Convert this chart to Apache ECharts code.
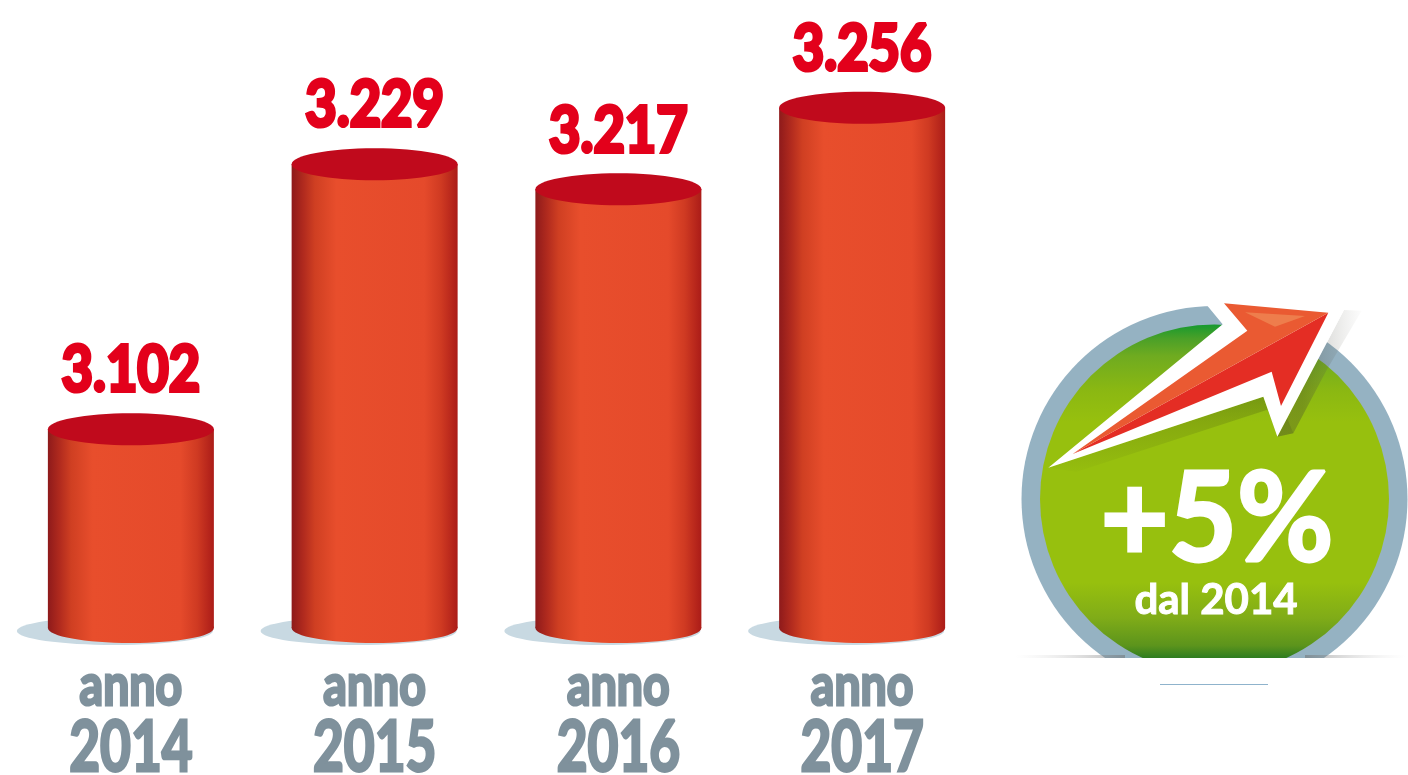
<!DOCTYPE html>
<html><head><meta charset="utf-8">
<style>html,body{margin:0;padding:0;background:#fff}#c{width:1408px;height:775px}</style>
<script src="https://cdn.jsdelivr.net/npm/echarts@6/dist/echarts.min.js"></script>
</head><body><div id="c"></div>
<script>
const years = ['2014','2015','2016','2017'];
const values = [3102,3229,3217,3256];
const axisWord = 'anno';
const badgeMain = '+5%';
const badgeSub = 'dal 2014';
const FONT = 'Lato,"Open Sans",sans-serif';
const fmt = v => String(v).replace(/(\d)(\d{3})$/, '$1.$2');
const Z = pts => pts.map(p => [1000 + p[0]/3, 290 + p[1]/3]);
const lin = (x0,y0,x2,y2,stops) => new echarts.graphic.LinearGradient(x0,y0,x2,y2,stops.map(s=>({offset:s[0],color:s[1]})));
const bodyFill = () => lin(0,0,1,0,[[0,'#8e1a1b'],[0.07,'#b02a1e'],[0.14,'#cf3f22'],[0.27,'#e84e2c'],[0.8,'#e54a2b'],[0.9,'#cf3a22'],[1,'#ab1c18']]);
const label = (text,x,y,size,sx,color,lw) => ({type:'text',x,y,scaleX:sx,
  style:{text,x:0,y:0,align:'center',verticalAlign:'middle',font:'bold '+size+'px '+FONT,fill:color,stroke:color,lineWidth:lw,lineJoin:'round'}});

const chart = echarts.init(document.getElementById('c'), null, {renderer:'canvas'});
const cx=1214.5, cy=499;
chart.setOption({
  animation:false,
  backgroundColor:'#fff',
  grid:{left:9,width:975,top:16,height:626,outerBoundsMode:'none'},
  xAxis:{type:'category',data:years,axisLine:{show:false},axisTick:{show:false},axisLabel:{show:false}},
  yAxis:{type:'value',min:3000,max:3300,show:false,splitLine:{show:false}},
  series:[{
    type:'custom',
    data:values.map((v,i)=>[i,v]),
    clip:false,
    renderItem(params,api){
      const top=api.coord([api.value(0),api.value(1)]);
      const base=api.coord([api.value(0),3000]);
      const x=top[0], w=83, ry=16, by=base[1]-14;
      return {type:'group',children:[
        {type:'ellipse',shape:{cx:x-16,cy:by+3,rx:98,ry:14},style:{fill:'#c8d9e2'}},
        {type:'ellipse',shape:{cx:x,cy:by,rx:w,ry:15},style:{fill:bodyFill()}},
        {type:'rect',shape:{x:x-w,y:top[1],width:2*w,height:by-top[1]},style:{fill:bodyFill()}},
        {type:'ellipse',shape:{cx:x,cy:top[1],rx:w,ry:ry},style:{fill:'#c00a1c'}},
        label(fmt(api.value(1)),x,top[1]-58,63,0.86,'#e3001b',4),
        label(axisWord,x,686,58,0.8,'#7f919c',3),
        label(years[params.dataIndex],x,748,70,0.76,'#7f919c',3)
      ]};
    }
  }],
  graphic:[
    {type:'circle',silent:true,z:1,shape:{cx,cy,r:193},style:{fill:'#95b2c2'}},
    {type:'circle',silent:true,z:2,shape:{cx,cy,r:174.5},style:{fill:lin(0,0,0,1,[[0,'#169a2e'],[0.04,'#4aa028'],[0.09,'#6fab20'],[0.19,'#8bb812'],[0.28,'#97c00e'],[0.74,'#97c00e'],[0.84,'#80ac18'],[0.92,'#5c941c'],[0.955,'#2f7d20'],[1,'#2f7d20']])}},
    // white mask under the ground line
    {type:'rect',silent:true,z:3,shape:{x:1005,y:658,width:403,height:117},style:{fill:'#fff'}},
    {type:'rect',silent:true,z:3,shape:{x:1015,y:655,width:110,height:3},style:{fill:lin(1,0,0,0,[[0,'rgba(110,110,110,0.5)'],[1,'rgba(200,200,200,0)'] ])}},
    {type:'rect',silent:true,z:3,shape:{x:1305,y:655,width:100,height:3},style:{fill:lin(0,0,1,0,[[0,'rgba(110,110,110,0.5)'],[1,'rgba(200,200,200,0)'] ])}},
    {type:'rect',silent:true,z:3,shape:{x:1160,y:684,width:108,height:1},style:{fill:'#8fb3cc'}},
    // arrow shadows
    {type:'polygon',silent:true,z:4,shape:{points:Z([[145,533],[790,320],[832,440],[880,430],[860,380],[800,360],[230,545]])},style:{fill:lin(0,0,0,1,[[0,'rgba(60,70,20,0.28)'],[1,'rgba(60,70,20,0.02)']])}},
    {type:'polygon',silent:true,z:4,shape:{points:Z([[1032,60],[1085,62],[980,240],[880,430],[832,440]])},style:{fill:lin(0,0,1,0,[[0.3,'rgba(60,60,50,0.3)'],[1,'rgba(120,120,110,0.02)']])}},
    // white outline
    {type:'polygon',silent:true,z:5,shape:{points:Z([[145,533],[668,103],[622,47],[672,40],[985,60],[1032,60],[832,440],[790,320]])},style:{fill:'#fff'}},
    // arrow
    {type:'polygon',silent:true,z:6,shape:{points:Z([[218,492],[985,68],[843,348],[815,245]])},style:{fill:'#e42d24'}},
    {type:'polygon',silent:true,z:7,shape:{points:Z([[218,492],[742,122],[672,40],[985,68]])},style:{fill:'#ea5a32'}},
    {type:'polygon',silent:true,z:8,shape:{points:Z([[735,67],[915,78],[825,110]])},style:{fill:'#ee7d4c'}},
    // badge text
    {type:'text',silent:true,z:9,x:1217,y:521,scaleX:0.95,style:{text:badgeMain,x:0,y:0,align:'center',verticalAlign:'middle',font:'bold 124px '+FONT,fill:'#fff',stroke:'#fff',lineWidth:3,lineJoin:'round'}},
    {type:'text',silent:true,z:9,x:1216,y:600,style:{text:badgeSub,x:0,y:0,align:'center',verticalAlign:'middle',font:'bold 42px '+FONT,fill:'#fff',stroke:'#fff',lineWidth:1,lineJoin:'round'}}
  ]
});
</script></body></html>
